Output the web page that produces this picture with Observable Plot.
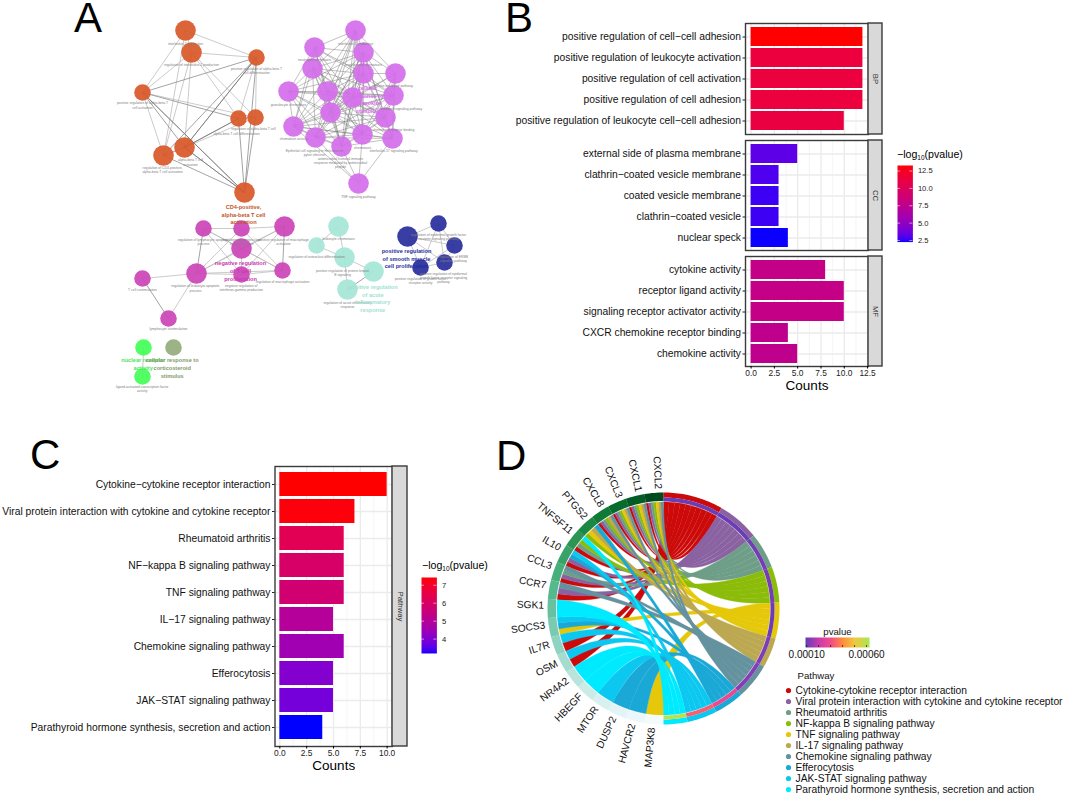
<!DOCTYPE html>
<html><head><meta charset="utf-8">
<script src="https://cdn.jsdelivr.net/npm/d3@7"></script>
<script src="https://cdn.jsdelivr.net/npm/@observablehq/plot@0.6"></script>
<style>
html,body{margin:0;padding:0;background:#fff}
#page{position:relative;width:1065px;height:796px;overflow:hidden;font-family:"Liberation Sans",Arial,sans-serif;color:#000}
#page svg{position:absolute;background:transparent;max-width:none}
.letter{position:absolute;font-size:42px;line-height:34px;height:34px}
.ctitle{position:absolute;font-size:10.6px;line-height:12px;white-space:nowrap}
.ctitle sub{font-size:6.5px;vertical-align:-2px;line-height:0}
</style></head><body><div id="page"></div>
<script>
// ---------- Panel B data ----------
const bpNames=["positive regulation of cell−cell adhesion","positive regulation of leukocyte activation","positive regulation of cell activation","positive regulation of cell adhesion","positive regulation of leukocyte cell−cell adhesion"];
const bpCounts=[12,12,12,12,10];
const bpLog=[13.3,11.4,11.4,11.4,11.2];
const ccNames=["external side of plasma membrane","clathrin−coated vesicle membrane","coated vesicle membrane","clathrin−coated vesicle","nuclear speck"];
const ccCounts=[5,3,3,3,4];
const ccLog=[3.3,3.0,2.7,2.7,2.3];
const mfNames=["cytokine activity","receptor ligand activity","signaling receptor activator activity","CXCR chemokine receptor binding","chemokine activity"];
const mfCounts=[8,10,10,4,5];
const mfLog=[7.9,7.9,7.9,7.6,7.6];
// ---------- Panel C data ----------
const keggNames=["Cytokine−cytokine receptor interaction","Viral protein interaction with cytokine and cytokine receptor","Rheumatoid arthritis","NF−kappa B signaling pathway","TNF signaling pathway","IL−17 signaling pathway","Chemokine signaling pathway","Efferocytosis","JAK−STAT signaling pathway","Parathyroid hormone synthesis, secretion and action"];
const keggCounts=[10,7,6,6,6,5,6,5,5,4];
const keggLog=[7.43,7.35,6.3,5.95,5.75,5.0,4.55,4.05,3.85,3.2];
// ---------- Panel D data ----------
const pathways=["Cytokine-cytokine receptor interaction","Viral protein interaction with cytokine and cytokine receptor","Rheumatoid arthritis","NF-kappa B signaling pathway","TNF signaling pathway","IL-17 signaling pathway","Chemokine signaling pathway","Efferocytosis","JAK-STAT signaling pathway","Parathyroid hormone synthesis, secretion and action"];
const pathwayColors=["#cc0a0a","#8a62a2","#6f9e88","#8cbc0a","#e6c80a","#bca850","#64929f","#1aa8d6","#0cc8f0","#00eaff"];
const pathwayP=[0.00010,0.00010,0.00011,0.00011,0.00010,0.00012,0.00013,0.00028,0.00033,0.00060];
const pTicks=[0.0001,0.0002,0.0003,0.0004,0.0005,0.0006];
const pColors=["#6a3db5","#c83cb0","#f04c88","#ff8c3c","#f0c840","#b8e050"];
const genes=["CXCL2","CXCL1","CXCL3","CXCL8","PTGS2","TNFSF11","IL10","CCL3","CCR7","SGK1","SOCS3","IL7R","OSM","NR4A2","HBEGF","MTOR","DUSP2","HAVCR2","MAP3K8"];
const geneLinks=[[0,1,2,3,4,5,6],[0,1,2,3,4,5,6],[0,1,2,3,4,5,6],[0,1,2,3,5,6],[3,4,5,7],[0,2,3,9],[0,1,7,8],[0,1,2,6],[0,1,6],[9],[4,7,8],[0,8],[0,8],[9],[9],[8],[7],[7],[4]];
// ---------- Panel A data ----------
const nodeX=[185,191,256,142,238,255,184,163,244, 355,314,363,312,363,395,288,327,352,393,330,385,293,315,341,362,392,358, 203,241,284,241,196,282,241,142,168, 338,316,344,373,347, 438,407,454,444,420, 143,142,173];
const nodeY=[30,52,57,92,118,117,147,155,192, 30,47,52,68,73,73,91,91,97,95,112,117,126,137,146,134,138,183, 228,228,226,248,273,270,274,278,318, 226,245,257,271,289, 223,236,245,262,267, 347,376,347];
const nodeR=[10.3,10.3,8.3,8.3,8.3,8.3,10.3,10.3,10.3, 10.3,10.3,10.3,10.3,10.3,10.3,10.3,10.3,10.3,10.3,10.3,10.3,10.3,10.3,10.3,10.3,10.3,10.3, 8.3,8.3,10.3,10.3,10.3,8.3,8.3,8.3,8.3, 10.3,8.3,10.3,10.3,10.3, 8.3,10.3,8.3,8.3,8.3, 8.3,8.3,8.3];
const nodeColor=[...Array(9).fill("#d9582a"),...Array(18).fill("#d46fec"),...Array(9).fill("#cc45b8"),...Array(5).fill("#a6e6d6"),...Array(5).fill("#2a2f9e"),"#44ff58","#44ff58","#93ad7c"];
const lightEdges=[[0,1],[0,2],[0,3],[0,7],[1,2],[1,3],[1,4],[1,5],[1,6],[1,7],[2,4],[2,5],[3,5],[3,7],[4,5],[5,6],[27,28],[27,30],[27,32],[27,33],[28,29],[28,31],[28,32],[29,30],[29,31],[29,33],[30,31],[30,32],[30,33],[31,32],[31,33],[32,33],[31,34],[31,35],[36,37],[36,38],[37,38],[38,39],[38,40],[41,42],[41,43],[41,44],[41,45],[42,43],[42,44],[42,45],[43,44],[44,45],[43,45],[46,47]];
const darkEdges=[[2,3],[2,6],[2,7],[2,8],[3,4],[3,6],[3,8],[4,6],[4,8],[5,8],[6,7],[6,8],[27,31],[29,32],[34,35],[39,40]];
const arrowEdges=[[4,6],[2,6],[6,8],[7,8],[3,8]];
const purpleAdj=["1 2 3 4 5 7 8 10 12 13 14 15","2 3 4 6 7 8 9 10 12 14 15","3 4 5 6 7 8 9 10 11 13 14 15 16","4 6 7 8 9 10 11 12 13 14 15","5 6 7 8 9 10 11 12 13 14 15 16","8 9 10 11 15 16","7 8 9 10 12 13 14 15","8 9 10 11 12 13 14 15 16","9 10 11 12 13 14 15 16","10 11 12 13 15 16","11 12 13 14 15 16","12 13 14 15 16","13 14 15 16","14 15 16","15 16","16","","12 13 14 15 16"];
const smallLabels=[
["interleukin-2 production",185,43],["regulation of interleukin-2 production",191,64.5],["positive regulation of alpha-beta T\ncell differentiation",256,68],["positive regulation of alpha-beta T\ncell activation",142,102.5],["regulation of alpha-beta T cell",253,128],["alpha-beta T cell differentiation",236,133],["alpha-beta T cell\nactivation",190,159.5],["regulation of CD4-positive,\nalpha-beta T cell activation",162,167],
["interleukin-1 production",355,43],["neutrophil chemotaxis",314,59],["regulation of chemotaxis",363,64],["granulocyte chemotaxis",288,104],["cytokine-mediated pathway",392,85.5],["chemokine-mediated signaling pathway",392,108],["chemokine receptor binding",393,129],["chemokine activity",293,138.5],["chemotaxis",362,147],["interleukin-17 signaling pathway",393,150],["Epithelial cell signaling in Helicobacter\npylori infection",314,150],["antimicrobial humoral immune\nresponse mediated by antimicrobial\npeptide",340,158],["TNF signaling pathway",358,196],
["regulation of lymphocyte apoptotic\nprocess",203,239],["regulation of mononuclear\ncell proliferation",241,239],["positive regulation of macrophage\nactivation",283,239],["regulation of leukocyte apoptotic\nprocess",195,285.5],["negative regulation of\ninterferon-gamma production",240.7,285],["regulation of macrophage activation",282,281],["T cell costimulation",142,288.7],["lymphocyte costimulation",168,328],
["leukocyte chemotaxis",338,238],["regulation of osteoclast differentiation",316,256],["positive regulation of protein kinase\nB signaling",342,270],["regulation of acute inflammatory\nresponse",347,302],
["regulation of epidermal growth factor\nreceptor signaling pathway",438,234],["regulation of ERBB\nsignaling pathway",453,256],["positive regulation of epidermal\ngrowth factor receptor signaling\npathway",443,273],["positive regulation of growth factor\nreceptor activity",420,278],
["ligand-activated transcription factor\nactivity",141.7,386]];
const bigLabels=[
["CD4-positive,\nalpha-beta T cell\nactivation",243,206,"#c2562a"],
["cellular\nresponse to\nchemokine\nstimulus",367,87,"#d86af0"],
["negative regulation\nof T cell\nproliferation",240,262.3,"#c83ab0"],
["positive regulation\nof acute\ninflammatory\nresponse",372.3,285.7,"#a0e2d2"],
["positive regulation\nof smooth muscle\ncell proliferation",406,250,"#1f2f9c"],
["nuclear receptor\nactivity",142.7,359.3,"#44e855"],
["cellular response to\ncorticosteroid\nstimulus",171.7,359.3,"#7f9a68"]];

const FONT='"Liberation Sans",Arial,sans-serif';
const page=document.getElementById("page");
function place(svg,left,top){svg.style.left=left+"px";svg.style.top=top+"px";page.appendChild(svg);}
function letter(t,x,y){const d=document.createElement("div");d.className="letter";d.textContent=t;d.style.left=x+"px";d.style.top=y+"px";page.appendChild(d);}
function ctitle(x,y){const d=document.createElement("div");d.className="ctitle";d.innerHTML="−log<sub>10</sub>(pvalue)";d.style.left=x+"px";d.style.top=y+"px";page.appendChild(d);}
const INK="#3a3a3a";

function barPanel(o){
  const {names,counts,logs,domain,ticks,minor,left,right,top,bottom,strip,stripEnd,colorDomain,showX,labelSize,labelLeft,titleSize}=o;
  const mL=left-labelLeft,mB=showX?36:2,mT=2,stripW=stripEnd-right;
  const data=names.map((n,i)=>({n,c:counts[i],l:logs[i]}));
  const unit=(domain[1]-domain[0])/(right-left);
  const p=Plot.plot({
    width:mL+(right-left)+stripW+3,height:mT+(bottom-top)+mB,
    marginLeft:mL,marginRight:stripW+3,marginTop:mT,marginBottom:mB,
    style:{fontFamily:FONT,background:"transparent",overflow:"visible"},
    x:{domain,axis:null},
    y:{domain:names,axis:null,paddingInner:0.1,paddingOuter:0.15},
    color:{type:"linear",domain:colorDomain,range:["blue","red"],interpolate:"lab"},
    marks:[
      Plot.ruleX(minor,{stroke:"#f0f0f0",strokeWidth:0.7}),
      Plot.ruleX(ticks,{stroke:"#ebebeb",strokeWidth:1.3}),
      Plot.ruleY(names,{y:d=>d,stroke:"#ebebeb",strokeWidth:1.3}),
      Plot.barX(data,{x:"c",y:"n",fill:"l"}),
      Plot.frame({stroke:INK,strokeWidth:1.4}),
      Plot.rect([strip],{x1:domain[1],x2:domain[1]+stripW*unit,fill:"#d9d9d9",stroke:INK,strokeWidth:1.4}),
      Plot.text([strip],{x:domain[1]+stripW*unit/2,frameAnchor:"middle",text:d=>d,rotate:90,fontSize:7.8,fill:"#333"}),
      Plot.axisY({fontSize:labelSize,tickSize:2.5,tickPadding:2,label:null,stroke:"#222",fill:"#111"}),
      ...(showX?[
        Plot.axisX({ticks,tickFormat:".1f",fontSize:8.4,tickSize:2.5,tickPadding:1.5,label:null,fill:"#222"}),
        Plot.text(["Counts"],{frameAnchor:"bottom",text:d=>d,fontSize:titleSize,dy:19.5,lineAnchor:"middle",fill:"#000"})
      ]:[])
    ]
  });
  place(p,labelLeft,top-mT);
}
function colorBar(o){
  const {domain,ticks,fmt,left,top,w,h,size}=o;
  const p=Plot.plot({
    width:w+26,height:h,marginLeft:0,marginRight:26,marginTop:0,marginBottom:0,
    style:{fontFamily:FONT,background:"transparent",overflow:"visible"},
    x:{domain:[0,1],axis:null},
    y:{domain,axis:null},
    color:{type:"linear",domain,range:["blue","red"],interpolate:"lab"},
    marks:[
      Plot.raster({x1:0,x2:1,y1:domain[0],y2:domain[1],fill:(x,y)=>y,pixelSize:1}),
      Plot.ruleY(ticks,{x1:0,x2:0.2,stroke:"#fff",strokeWidth:0.7,strokeOpacity:0.8}),
      Plot.ruleY(ticks,{x1:0.8,x2:1,stroke:"#fff",strokeWidth:0.7,strokeOpacity:0.8}),
      Plot.axisY({anchor:"right",ticks,tickFormat:fmt,tickSize:0,tickPadding:5,fontSize:size,label:null,fill:"#222"})
    ]
  });
  place(p,left,top);
}

// ---------- Panel A ----------
(function(){
  const nodes=nodeX.map((x,i)=>({x,y:nodeY[i],r:nodeR[i],c:nodeColor[i]}));
  const seg=([a,b])=>({x1:nodeX[a],y1:nodeY[a],x2:nodeX[b],y2:nodeY[b],r:nodeR[b]});
  const pEdges=[];
  purpleAdj.forEach((s,i)=>{if(s)s.split(" ").forEach(j=>pEdges.push([9+i,9+ +j]));});
  const p=Plot.plot({
    width:500,height:400,margin:0,
    style:{fontFamily:FONT,background:"transparent",overflow:"visible"},
    x:{domain:[0,500],range:[0,500],axis:null},
    y:{domain:[0,400],range:[0,400],axis:null},
    r:{type:"identity"},
    marks:[
      Plot.link(lightEdges.map(seg),{x1:"x1",y1:"y1",x2:"x2",y2:"y2",stroke:"#b4b4b4",strokeWidth:0.7}),
      Plot.link(darkEdges.map(seg),{x1:"x1",y1:"y1",x2:"x2",y2:"y2",stroke:"#8c8c8c",strokeWidth:0.8}),
      Plot.link(pEdges.map(seg),{x1:"x1",y1:"y1",x2:"x2",y2:"y2",stroke:"#777",strokeWidth:0.6,strokeOpacity:0.75}),
      Plot.arrow(arrowEdges.map(seg),{x1:"x1",y1:"y1",x2:"x2",y2:"y2",insetEnd:"r",headLength:5,stroke:"#666",strokeWidth:0.6}),
      Plot.dot(nodes,{x:"x",y:"y",r:"r",fill:"c",fillOpacity:0.93,stroke:"none"}),
      Plot.text(smallLabels,{x:d=>d[1],y:d=>d[2],text:d=>d[0],fontSize:3.4,lineHeight:1.25,fill:"#808080",lineAnchor:"top",dy:-1.7}),
      Plot.text(bigLabels,{x:d=>d[1],y:d=>d[2],text:d=>d[0],fill:d=>d[3],fontSize:5.6,fontWeight:"bold",lineHeight:1.37,lineAnchor:"top",dy:-2.8})
    ]
  });
  place(p,0,0);
})();

// ---------- Panel B ----------
const bDom=[-0.6,12.6],bTicks=[0,2.5,5,7.5,10,12.5],bMinor=[1.25,3.75,6.25,8.75,11.25];
const bCol=[2.27,13.3];
const bCommon={domain:bDom,ticks:bTicks,minor:bMinor,left:745,right:868,stripEnd:882,colorDomain:bCol,labelSize:10.3,labelLeft:500,titleSize:13.5};
barPanel({...bCommon,names:bpNames,counts:bpCounts,logs:bpLog,top:23,bottom:134,strip:"BP",showX:false});
barPanel({...bCommon,names:ccNames,counts:ccCounts,logs:ccLog,top:140,bottom:250,strip:"CC",showX:false});
barPanel({...bCommon,names:mfNames,counts:mfCounts,logs:mfLog,top:256,bottom:366,strip:"MF",showX:true});
ctitle(897,148);
colorBar({domain:bCol,ticks:[2.5,5,7.5,10,12.5],fmt:".1f",left:897.3,top:165,w:15.4,h:76.6,size:7.6});

// ---------- Panel C ----------
barPanel({names:keggNames,counts:keggCounts,logs:keggLog,domain:[-0.45,10.5],ticks:[0,2.5,5,7.5,10],minor:[1.25,3.75,6.25,8.75],left:274.5,right:392,stripEnd:407,top:466,bottom:746,strip:"Pathway",showX:true,colorDomain:[3.2,7.43],labelSize:10.3,labelLeft:0,titleSize:13.5});
ctitle(422,559);
colorBar({domain:[3.2,7.43],ticks:[4,5,6,7],fmt:"d",left:421.3,top:576.7,w:15.4,h:76,size:7.6});

// ---------- Panel D ----------
(function(){
  const R=116,Ri=106.5,geneW=180/genes.length,linkDeg=3;
  const rad=a=>a*Math.PI/180;
  const pt=(r,a)=>({x:r*Math.sin(rad(a)),y:-r*Math.cos(rad(a))});
  const arc=(r,a,b)=>{const n=Math.max(2,Math.ceil(Math.abs(b-a)/1.2));return d3.range(n+1).map(i=>pt(r,a+(b-a)*i/n));};
  const bez=(p,q)=>d3.range(1,30).map(i=>{const t=i/30,u=1-t;return {x:u*u*p.x+t*t*q.x,y:u*u*p.y+t*t*q.y};});
  const band=(id,r1,r2,a,b,c)=>[...arc(r2,a,b),...arc(r1,b,a)].map(d=>({...d,id,c}));
  const counts=keggCounts;let acc=0;const sectorStart=counts.map(c=>{const s=acc;acc+=c*linkDeg;return s;});
  const used=counts.map(()=>0);
  const links=[];
  for(let i=genes.length-1;i>=0;i--){
    const hi=360-i*geneW,lo=hi-geneW,ls=geneLinks[i],w=geneW/ls.length;
    ls.forEach((pw,k)=>{
      const g1=lo+k*w,g2=g1+w;
      const a1=sectorStart[pw]+used[pw]*linkDeg;used[pw]++;
      links.push({pw,g1,g2,a1,a2:a1+linkDeg,gi:i});
    });
  }
  const ribbons=[];
  links.sort((a,b)=>a.pw-b.pw||a.a1-b.a1).forEach((l,i)=>{
    const c=pathwayColors[l.pw],id="rib"+i;
    const A1=pt(Ri,l.a1),A2=pt(Ri,l.a2),G1=pt(Ri,l.g1),G2=pt(Ri,l.g2);
    const poly=[...arc(Ri,l.a1,l.a2),...bez(A2,G1),...arc(Ri,l.g1,l.g2),...bez(G2,A1)];
    poly.forEach(d=>ribbons.push({...d,id,c}));
  });
  const rings=[];
  counts.forEach((c,i)=>{
    rings.push(...band("o"+i,111,R,sectorStart[i],sectorStart[i]+c*linkDeg,pathwayColors[i]));
  });
  const pRings=[];
  counts.forEach((c,i)=>{
    band("p"+i,107,111,sectorStart[i],sectorStart[i]+c*linkDeg,null).forEach(d=>pRings.push({...d,p:pathwayP[i]}));
  });
  const geneRing=[];
  genes.forEach((g,i)=>{
    const hi=360-i*geneW;
    geneRing.push(...band("g"+i,107.5,R,hi-geneW,hi+0.05,d3.interpolateBuGn(0.98-0.95*i/(genes.length-1))));
  });
  const labels=genes.map((g,i)=>{const a=357.5-i*9.55;return {g,a,...pt(R+3.5,a),rot:a-270};});
  const L=500,T=440,W=300,H=345,cx=663,cy=608;
  const p=Plot.plot({
    width:W,height:H,margin:0,
    style:{fontFamily:FONT,background:"transparent",overflow:"visible"},
    x:{domain:[L-cx,L+W-cx],range:[0,W],axis:null},
    y:{domain:[T-cy,T+H-cy],range:[0,H],axis:null},
    color:{type:"linear",domain:pTicks,range:pColors},
    marks:[
      Plot.line(ribbons,{x:"x",y:"y",z:"id",fill:"c",stroke:"c",strokeWidth:0.35}),
      Plot.line(geneRing,{x:"x",y:"y",z:"id",fill:"c",stroke:null}),
      Plot.line(rings,{x:"x",y:"y",z:"id",fill:"c",stroke:null}),
      Plot.line(pRings,{x:"x",y:"y",z:"id",fill:"p",stroke:null}),
      Plot.text(labels,{x:"x",y:"y",text:"g",rotate:"rot",textAnchor:"end",fontSize:10.2,fill:"#111"})
    ]
  });
  place(p,L,T);
  const pDom=[0.00009,0.000625];
  const bar=Plot.plot({
    width:100,height:34,marginLeft:18,marginRight:18,marginTop:10,marginBottom:14,
    style:{fontFamily:FONT,background:"transparent",overflow:"visible"},
    x:{domain:pDom,axis:null},y:{domain:[0,1],axis:null},
    color:{type:"linear",domain:pTicks,range:pColors},
    marks:[
      Plot.raster({x1:pDom[0],x2:pDom[1],y1:0,y2:1,fill:(x,y)=>x,pixelSize:1}),
      Plot.ruleX(pTicks,{x:d=>d,y1:0,y2:0.2,stroke:"#111",strokeWidth:0.7}),
      Plot.axisX({ticks:[0.0001,0.0006],tickFormat:d3.format(".5f"),tickSize:0,tickPadding:3,fontSize:10,label:null,fill:"#111"}),
      Plot.text(["pvalue"],{frameAnchor:"top",text:d=>d,fontSize:9.6,dy:-9,fill:"#111",lineAnchor:"top"})
    ]
  });
  place(bar,787,627);
  const leg=Plot.plot({
    width:285,height:124,marginLeft:8,marginRight:0,marginTop:18,marginBottom:7,
    style:{fontFamily:FONT,background:"transparent",overflow:"visible"},
    x:{domain:[0,1],range:[8,285],axis:null},
    y:{domain:pathways,axis:null,padding:0},
    color:{domain:pathways,range:pathwayColors},
    marks:[
      Plot.dot(pathways,{x:0,y:d=>d,fill:d=>d,r:2.6,stroke:null}),
      Plot.text(pathways,{x:0,y:d=>d,text:d=>d,textAnchor:"start",dx:7,fontSize:10.25,fill:"#111"}),
      Plot.text(["Pathway"],{frameAnchor:"top-left",text:d=>d,dx:9,dy:-18,fontSize:9.6,fill:"#111",textAnchor:"start",lineAnchor:"top"})
    ]
  });
  place(leg,780,672);
})();

letter("A",74,1);letter("B",505,1);letter("C",30,438);letter("D",496,439);
</script></body></html>
